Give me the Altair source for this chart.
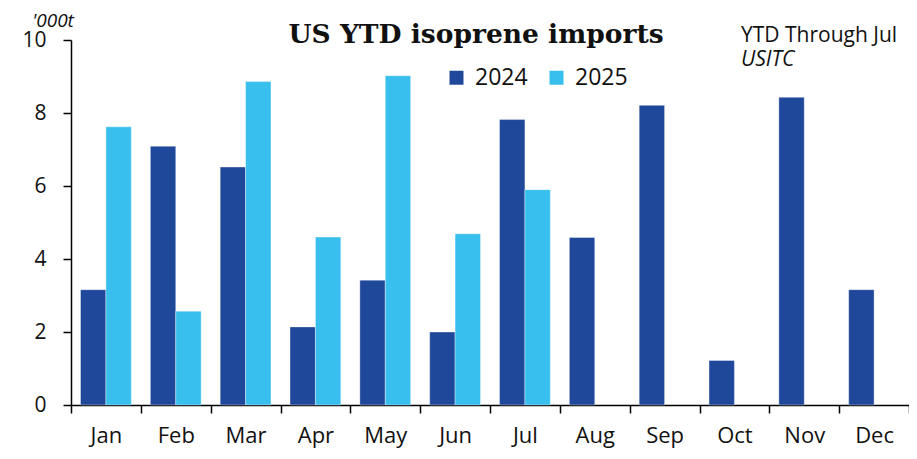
import altair as alt
import pandas as pd

months = ["Jan", "Feb", "Mar", "Apr", "May", "Jun", "Jul", "Aug", "Sep", "Oct", "Nov", "Dec"]
years = ["2024", "2025"]
v2024 = [3.16, 7.09, 6.52, 2.14, 3.42, 2.00, 7.82, 4.59, 8.21, 1.22, 8.43, 3.16]
v2025 = [7.62, 2.57, 8.86, 4.60, 9.02, 4.69, 5.90]
colors = ["#20489A", "#38BFEE"]

title_text = "US YTD isoprene imports"
unit_text = "'000t"
note_text = "YTD Through Jul"
source_text = "USITC"

rows = []
for m, v in zip(months, v2024):
    rows.append({"month": m, "year": "2024", "value": v})
for m, v in zip(months, v2025):
    rows.append({"month": m, "year": "2025", "value": v})
df = pd.DataFrame(rows)

W, H = 838, 365
FONT = "Open Sans"

bars = alt.Chart(df).mark_bar(stroke="#ffffff", strokeWidth=0.6, strokeOpacity=0.6).encode(
    x=alt.X("month:N", sort=months,
            scale=alt.Scale(domain=months, paddingInner=0, paddingOuter=0),
            axis=alt.Axis(title=None, labelAngle=0, tickBand="extent", tickSize=8,
                          labelPadding=12, labelFontSize=22, labelFont=FONT,
                          labelColor="#111111", domainColor="#000000", tickColor="#000000",
                          domainWidth=1.5, tickWidth=1.5, grid=False)),
    xOffset=alt.XOffset("year:N", scale=alt.Scale(domain=years, paddingInner=0, paddingOuter=0.375)),
    y=alt.Y("value:Q", scale=alt.Scale(domain=[0, 10], nice=False),
            axis=alt.Axis(title=None, values=[0, 2, 4, 6, 8, 10], tickSize=8,
                          labelPadding=17, labelFontSize=21, labelFont=FONT,
                          labelColor="#111111", domainColor="#000000", tickColor="#000000",
                          domainWidth=1.5, tickWidth=1.5, grid=False)),
    color=alt.Color("year:N", scale=alt.Scale(domain=years, range=colors),
                    legend=alt.Legend(title=None, orient="none", direction="horizontal",
                                      legendX=374, legendY=26, symbolType="square",
                                      symbolSize=196, symbolStrokeWidth=0,
                                      labelFontSize=23, labelFont=FONT, labelColor="#111111",
                                      labelOffset=7, columnPadding=17)),
)

def label(text, x, y, size, font=FONT, weight="normal", style="normal", align="left"):
    return alt.Chart(pd.DataFrame({"t": [text]})).mark_text(
        font=font, fontSize=size, fontWeight=weight, fontStyle=style,
        align=align, baseline="alphabetic", color="#111111"
    ).encode(text="t:N", x=alt.value(x), y=alt.value(y))

title = label(title_text, 405, 3, 26.5, font="DejaVu Serif", weight="bold", align="center")
unit = label(unit_text, -18, -13, 19, style="italic", align="center")
note = label(note_text, 670, 2, 21)
source = label(source_text, 670, 26, 21, style="italic")

chart = alt.layer(bars, title, unit, note, source).properties(
    width=W, height=H,
    autosize=alt.AutoSizeParams(type="none"),
    padding={"left": 63, "top": 32, "right": 0, "bottom": 43},
).configure_view(stroke=None)

chart.save("out.html", embed_options={"renderer": "svg", "actions": False})
